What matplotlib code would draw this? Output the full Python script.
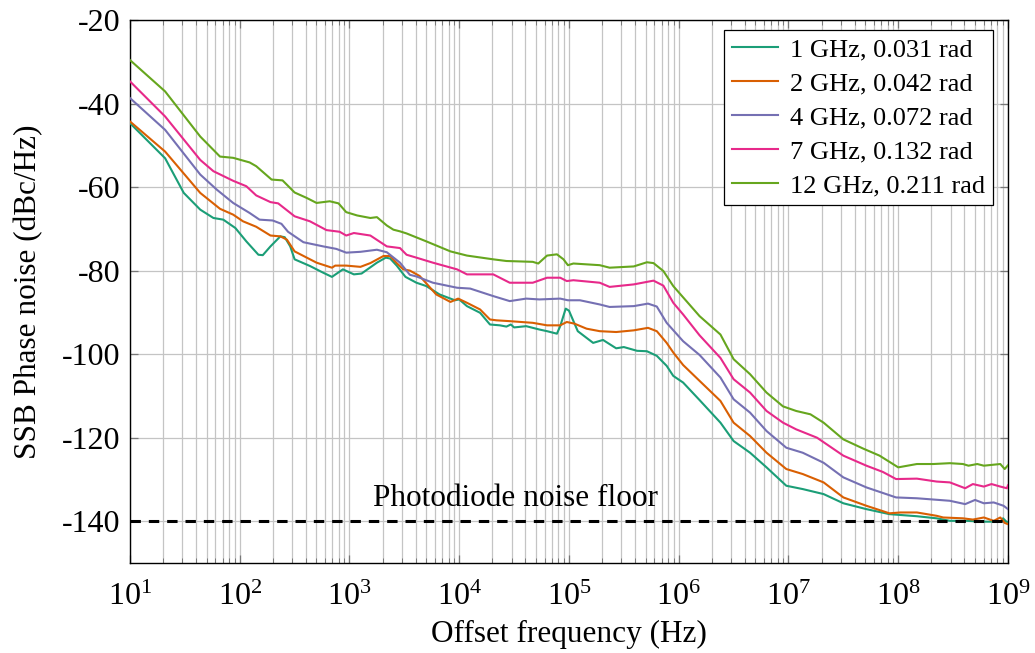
import numpy as np
import matplotlib
matplotlib.use("Agg")
import matplotlib.pyplot as plt
from matplotlib.ticker import LogLocator, FixedLocator, NullFormatter, LogFormatterMathtext

plt.rcParams["font.family"] = ["Liberation Serif", "DejaVu Serif"]
plt.rcParams["mathtext.fontset"] = "stix"
plt.rcParams["axes.unicode_minus"] = False

# Offset frequency given as log10(Hz), phase noise in dBc/Hz
logf_1g = [1.0, 1.32, 1.49, 1.64, 1.76, 1.85, 1.96, 2.06, 2.17, 2.21, 2.28, 2.37, 2.41, 2.46, 2.50,
           2.64, 2.76, 2.84, 2.94, 3.04, 3.11, 3.25, 3.33, 3.37, 3.43, 3.51, 3.61, 3.70, 3.82, 3.96,
           4.00, 4.07, 4.19, 4.28, 4.37, 4.43, 4.47, 4.50, 4.61, 4.73, 4.80, 4.89, 4.92, 4.97, 5.00,
           5.08, 5.22, 5.31, 5.43, 5.50, 5.62, 5.71, 5.80, 5.89, 5.95, 6.04, 6.19, 6.38, 6.50, 6.65,
           6.80, 6.98, 7.13, 7.32, 7.50, 7.71, 7.92, 8.17, 8.35, 8.47, 8.62, 8.78, 8.94, 8.955, 8.985, 9.0]
pn_1g = [-44.7, -53.1, -61.4, -65.4, -67.4, -67.8, -69.8, -73.0, -76.2, -76.3, -74.2, -71.8, -72.0, -74.2, -77.3,
         -78.9, -80.5, -81.5, -79.7, -80.9, -80.7, -78.1, -76.9, -77.1, -78.8, -81.5, -82.9, -83.7, -85.7, -87.1,
         -86.9, -88.5, -90.1, -92.9, -93.1, -93.4, -92.9, -93.6, -93.3, -94.1, -94.5, -95.1, -93.3, -89.1, -89.6,
         -94.5, -97.3, -96.6, -98.6, -98.3, -99.2, -99.3, -100.4, -102.8, -105.2, -106.8, -111.0, -116.4, -120.8, -123.6,
         -127.1, -131.5, -132.3, -133.5, -135.7, -137.1, -138.3, -138.8, -139.3, -139.9, -139.9, -140.1, -140.1, -139.3, -140.1, -140.3]

logf_2g = [1.0, 1.32, 1.64, 1.82, 1.94, 2.03, 2.15, 2.28, 2.37, 2.43, 2.50, 2.70, 2.84, 2.87, 2.97,
           3.10, 3.19, 3.31, 3.37, 3.43, 3.49, 3.55, 3.64, 3.79, 3.92, 3.99, 4.07, 4.19, 4.28, 4.34,
           4.46, 4.67, 4.80, 4.92, 4.98, 5.05, 5.16, 5.28, 5.43, 5.59, 5.72, 5.80, 5.89, 5.95, 6.04,
           6.19, 6.38, 6.50, 6.65, 6.80, 6.98, 7.13, 7.32, 7.50, 7.71, 7.92, 8.02, 8.17, 8.35, 8.41,
           8.59, 8.68, 8.78, 8.87, 8.93, 8.97, 9.0]
pn_2g = [-44.3, -51.5, -61.4, -65.2, -66.6, -68.2, -69.5, -71.6, -71.8, -72.6, -75.4, -78.1, -79.3, -78.8, -78.8,
         -79.1, -78.2, -76.5, -76.5, -78.2, -79.7, -80.0, -81.3, -85.7, -87.5, -86.7, -87.7, -89.3, -91.7, -91.9,
         -92.1, -92.5, -93.1, -93.1, -92.3, -92.7, -93.9, -94.5, -94.7, -94.3, -93.7, -94.5, -97.3, -99.6, -102.6,
         -106.4, -111.2, -116.4, -119.6, -123.6, -127.5, -128.7, -130.7, -134.3, -136.3, -138.1, -137.9, -137.9, -138.7, -139.1,
         -139.3, -139.6, -139.1, -139.9, -139.1, -140.4, -140.7]

logf_4g = [1.0, 1.32, 1.64, 1.79, 1.94, 2.09, 2.18, 2.30, 2.38, 2.44, 2.58, 2.76, 2.88, 2.97, 3.10,
           3.25, 3.34, 3.46, 3.55, 3.61, 3.76, 3.98, 4.10, 4.31, 4.46, 4.61, 4.73, 4.92, 4.99, 5.10,
           5.28, 5.37, 5.59, 5.72, 5.80, 5.89, 6.04, 6.19, 6.38, 6.50, 6.65, 6.80, 6.98, 7.13, 7.32,
           7.50, 7.71, 7.98, 8.17, 8.47, 8.61, 8.70, 8.78, 8.87, 8.96, 9.0]
pn_4g = [-38.7, -46.3, -57.0, -60.6, -63.8, -66.2, -67.8, -68.0, -68.8, -70.7, -73.2, -74.2, -74.8, -75.7, -75.5,
         -75.0, -75.6, -78.1, -81.0, -81.4, -82.9, -84.1, -84.3, -86.1, -87.3, -86.7, -86.9, -86.7, -87.1, -87.1,
         -88.1, -88.7, -88.5, -87.9, -88.6, -92.5, -96.9, -100.2, -105.6, -110.8, -114.0, -118.4, -122.4, -123.6, -126.0,
         -129.5, -131.9, -134.3, -134.5, -135.1, -135.9, -134.9, -135.7, -135.5, -136.3, -137.1]

logf_7g = [1.0, 1.32, 1.64, 1.76, 1.94, 2.06, 2.15, 2.28, 2.35, 2.50, 2.64, 2.79, 2.91, 2.97, 3.04,
           3.19, 3.34, 3.40, 3.46, 3.52, 3.61, 3.76, 3.98, 4.07, 4.31, 4.37, 4.46, 4.67, 4.80, 4.92,
           4.98, 5.04, 5.28, 5.37, 5.59, 5.77, 5.86, 5.95, 6.04, 6.19, 6.38, 6.50, 6.65, 6.80, 6.95,
           7.07, 7.26, 7.50, 7.71, 7.86, 7.98, 8.17, 8.35, 8.47, 8.61, 8.68, 8.78, 8.85, 8.93, 8.99, 9.0]
pn_7g = [-34.7, -43.1, -53.5, -56.2, -58.5, -59.8, -62.0, -63.6, -63.9, -67.0, -68.2, -70.3, -70.7, -71.6, -71.0,
         -71.6, -74.2, -74.4, -74.6, -76.2, -76.9, -78.1, -79.7, -80.9, -80.9, -81.7, -82.9, -82.9, -81.7, -81.7,
         -82.5, -82.3, -82.9, -83.9, -83.3, -82.4, -83.6, -87.7, -90.5, -95.5, -100.9, -106.0, -109.2, -113.6, -116.4,
         -118.0, -120.0, -124.3, -126.7, -128.2, -129.9, -129.8, -130.5, -130.7, -132.1, -131.1, -131.7, -131.1, -131.7, -132.1, -131.4]

logf_12g = [1.0, 1.32, 1.64, 1.82, 1.94, 2.09, 2.15, 2.29, 2.39, 2.50, 2.61, 2.70, 2.82, 2.90, 2.97,
            3.07, 3.19, 3.25, 3.34, 3.40, 3.46, 3.52, 3.70, 3.92, 4.07, 4.31, 4.43, 4.67, 4.72, 4.80,
            4.89, 4.95, 4.99, 5.04, 5.28, 5.37, 5.59, 5.71, 5.77, 5.86, 5.95, 6.04, 6.19, 6.38, 6.50,
            6.65, 6.80, 6.95, 7.07, 7.20, 7.32, 7.50, 7.68, 7.83, 8.00, 8.17, 8.32, 8.47, 8.59, 8.64,
            8.72, 8.78, 8.93, 8.97, 9.0]
pn_12g = [-29.6, -37.1, -47.9, -52.7, -53.0, -54.1, -55.0, -58.2, -58.4, -61.3, -62.6, -63.8, -63.4, -63.9, -66.0,
          -66.8, -67.4, -67.2, -69.2, -70.2, -70.6, -71.1, -73.0, -75.4, -76.4, -77.3, -77.7, -77.9, -78.3, -76.4,
          -76.1, -77.3, -78.7, -78.3, -78.7, -79.3, -79.0, -78.0, -78.2, -80.1, -83.7, -86.4, -90.9, -95.3, -101.2,
          -104.8, -109.2, -112.5, -113.6, -114.4, -116.4, -120.4, -122.6, -124.3, -127.1, -126.3, -126.3, -126.1, -126.3, -126.7,
          -126.3, -126.7, -126.3, -127.5, -126.6]

series_labels = ["1 GHz, 0.031 rad", "2 GHz, 0.042 rad", "4 GHz, 0.072 rad",
                 "7 GHz, 0.132 rad", "12 GHz, 0.211 rad"]
series_colors = ["#1b9e77", "#d95f02", "#7570b3", "#e7298a", "#66a61e"]
y_ticks = [-140, -120, -100, -80, -60, -40, -20]
x_decades = [1, 2, 3, 4, 5, 6, 7, 8, 9]
noise_floor = -140.0
floor_label = "Photodiode noise floor"

series = [(logf_1g, pn_1g), (logf_2g, pn_2g), (logf_4g, pn_4g),
          (logf_7g, pn_7g), (logf_12g, pn_12g)]

fig = plt.figure(figsize=(10.35, 6.53), dpi=100)
ax = fig.add_axes([0.1256, 0.1378, 0.8483, 0.8316])

for (lf, pn), lab, col in zip(series, series_labels, series_colors):
    ax.plot(10.0 ** np.asarray(lf), pn, color=col, lw=1.5, label=lab, zorder=3)

ax.axhline(noise_floor, color="black", lw=2.2, ls=(0, (3.4, 2.6)), zorder=4)
ax.text(10 ** 4.51, noise_floor + 1.9, floor_label, ha="center", va="bottom", fontsize=22.5, zorder=5)

ax.set_xscale("log")
ax.set_xlim(10.0 ** x_decades[0], 10.0 ** x_decades[-1])
ax.set_ylim(-150, -20)
ax.yaxis.set_major_locator(FixedLocator(y_ticks))
ax.xaxis.set_major_locator(FixedLocator([10.0 ** d for d in x_decades]))
ax.xaxis.set_major_formatter(LogFormatterMathtext())
minor_ticks = [m * 10.0 ** d for d in x_decades[:-1] for m in range(2, 10)]
ax.xaxis.set_minor_locator(FixedLocator(minor_ticks))
ax.xaxis.set_minor_formatter(NullFormatter())

ax.grid(True, which="major", color="#c4c4c4", lw=0.9, zorder=0)
ax.grid(True, which="minor", axis="x", color="#c4c4c4", lw=0.9, zorder=0)
ax.tick_params(which="both", direction="in", top=True, right=True, labelsize=23)
ax.tick_params(axis="y", pad=7)
ax.tick_params(axis="x", pad=14)
ax.tick_params(which="major", length=6, width=0.9, color="#777777")
ax.tick_params(which="minor", length=3.5, width=0.7, color="#777777")
for s in ax.spines.values():
    s.set_linewidth(1.0)

ax.set_xlabel("Offset frequency (Hz)", fontsize=22.5, labelpad=6)
ax.set_ylabel("SSB Phase noise (dBc/Hz)", fontsize=22.5, labelpad=13)

leg = ax.legend(loc="upper right", bbox_to_anchor=(0.983, 0.982), fontsize=19,
                fancybox=False, framealpha=1, edgecolor="black", handlelength=1.75,
                handletextpad=0.45, borderpad=0.3, labelspacing=0.4, borderaxespad=0)
leg.get_frame().set_linewidth(0.9)

fig.savefig("out.png", dpi=100)
